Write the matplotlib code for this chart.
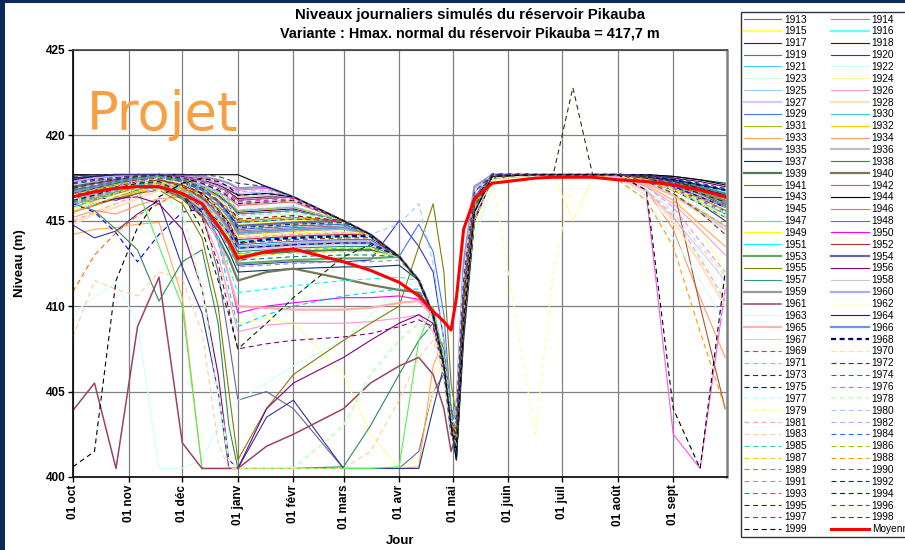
import matplotlib
matplotlib.use('Agg')
import matplotlib.pyplot as plt
from matplotlib.lines import Line2D
from matplotlib.patches import Rectangle

plt.rcParams['font.family'] = ['Liberation Sans', 'DejaVu Sans']
plt.rcParams['lines.scale_dashes'] = False

# ---------------- data ----------------
# day index from 01 oct (water year)
DAYS = [0, 12, 24, 36, 48, 61, 72, 81, 87, 92, 108, 123, 151, 166, 182, 193,
        201, 207, 211, 214, 218, 224, 234, 258, 268, 279, 290, 304, 320, 335, 350, 364]

MONTH_DAYS = [0, 31, 61, 92, 123, 151, 182, 212, 243, 273, 304, 335]
MONTH_LABELS = ['01 oct', '01 nov', '01 déc', '01 janv', '01 févr', '01 mars',
                '01 avr', '01 mai', '01 juin', '01 juil', '01 août', '01 sept']
Y_TICKS = [400, 405, 410, 415, 420, 425]

YEARS = list(range(1913, 2000))

LEVELS = {
1913: [416.8,417.0,416.6,416.9,417.2,416.8,415.5,412.0,408.0,404.5,405.0,404.0,400.5,400.5,400.5,401.5,405.0,406.0,403.5,401.5,408.5,415.5,417.5,417.7,417.7,417.7,417.7,417.7,417.5,417.2,416.8,416.4],
1914: [417.3,417.5,417.7,417.6,417.7,417.6,417.5,417.2,417.0,416.8,416.9,416.4,415.0,414.2,412.9,411.5,409.5,406.5,403.0,402.5,410.0,416.0,417.6,417.7,417.7,417.7,417.7,417.5,416.5,402.5,400.5,411.0],
1915: [416.2,416.5,416.9,417.2,417.4,417.2,416.6,416.0,415.4,414.8,414.9,415.0,415.0,414.2,412.9,411.5,409.5,406.5,403.5,404.0,412.0,416.8,417.7,417.7,417.7,417.7,417.7,417.6,417.3,416.9,416.5,416.0],
1916: [415.8,416.2,416.6,417.0,417.3,417.0,416.4,415.6,414.8,413.8,413.9,414.0,414.1,414.1,412.9,411.5,409.3,406.0,402.5,403.0,411.0,416.2,417.6,417.7,417.7,417.7,417.7,417.7,417.6,417.4,417.1,416.7],
1917: [417.7,417.6,417.7,417.5,417.6,417.5,417.3,417.0,416.7,416.3,416.4,416.4,415.0,414.2,412.9,411.5,409.5,406.8,403.2,401.5,409.0,415.5,417.5,417.7,417.7,417.7,417.7,417.7,417.7,417.5,417.3,417.0],
1918: [417.0,417.3,417.5,417.6,417.7,417.4,417.0,416.5,416.0,415.5,415.6,415.7,415.0,414.2,412.9,411.5,409.5,406.5,403.0,402.0,410.5,416.5,417.7,417.7,417.7,417.7,417.7,417.6,417.5,417.2,416.6,415.8],
1919: [416.5,416.0,416.4,416.8,417.0,416.6,415.9,415.0,414.2,413.2,413.3,413.4,413.5,413.5,412.9,411.5,409.5,406.2,402.8,403.5,411.5,416.5,417.6,417.7,417.7,417.7,417.7,417.7,417.5,417.0,416.4,415.9],
1920: [416.0,416.4,416.2,416.6,416.9,416.4,415.6,414.6,413.6,412.4,412.5,412.6,412.6,412.7,415.0,413.5,412.0,408.0,404.0,403.5,410.5,415.8,417.5,417.7,417.7,417.7,417.7,417.7,417.6,417.3,417.0,416.6],
1921: [416.9,417.2,417.0,417.3,417.5,417.2,416.7,416.0,415.2,414.2,414.3,414.4,414.5,414.2,412.9,411.5,409.5,406.5,403.0,401.8,409.5,416.0,417.6,417.7,417.7,417.7,417.7,417.7,417.4,416.8,416.1,415.4],
1922: [409.6,410.5,411.4,409.0,400.5,400.5,401.0,403.0,404.0,404.5,405.5,406.5,408.0,409.5,411.0,411.5,409.5,406.5,403.0,402.0,408.0,414.0,417.0,417.7,417.7,417.7,417.7,417.6,417.0,415.5,413.0,410.5],
1923: [416.4,416.8,417.1,417.4,417.6,417.3,416.9,416.3,415.8,415.2,415.3,415.4,415.0,414.2,412.9,411.5,409.5,406.5,403.0,404.5,412.5,416.8,417.7,417.7,417.7,417.7,417.7,417.7,417.2,416.4,415.4,414.3],
1924: [415.0,415.5,416.0,416.5,416.8,416.2,414.8,412.5,410.5,409.0,409.3,409.0,406.0,402.5,400.5,401.0,405.0,407.0,404.0,402.5,408.0,414.5,417.3,417.7,417.7,415.0,417.5,417.7,417.4,416.5,414.5,412.0],
1925: [417.2,417.4,417.6,417.7,417.7,417.6,417.4,417.1,416.9,416.6,416.7,416.4,415.0,414.2,412.9,411.5,409.5,406.5,403.0,403.0,411.5,416.5,417.7,417.7,417.7,417.7,417.7,417.7,417.5,417.1,416.5,415.8],
1926: [415.5,416.0,416.4,416.7,416.8,416.3,415.2,413.0,410.5,408.5,408.9,409.0,409.0,409.1,409.3,409.5,408.5,406.0,403.0,402.5,409.5,415.5,417.5,417.7,417.7,417.7,417.7,417.6,417.0,416.0,414.5,413.0],
1927: [416.6,417.0,417.2,417.0,417.4,417.3,417.0,416.7,416.4,416.0,416.1,416.2,415.0,414.2,412.9,411.5,409.5,406.5,403.0,403.8,412.0,416.9,417.7,417.7,417.7,417.7,417.7,417.7,417.3,416.5,415.5,414.5],
1928: [414.8,415.4,415.8,416.3,416.8,416.6,416.2,415.5,414.8,414.0,414.1,414.2,414.3,414.2,412.9,411.5,409.5,406.5,403.0,402.0,409.5,415.5,417.6,417.7,417.7,417.7,417.7,417.5,416.8,415.0,412.5,410.0],
1929: [417.0,417.2,417.4,417.3,417.5,417.3,416.9,416.4,416.0,415.4,415.5,415.6,415.0,414.2,412.9,414.8,413.2,409.5,404.0,403.0,411.0,416.3,417.6,417.7,417.7,417.7,417.7,417.7,417.6,417.3,417.0,416.6],
1930: [416.2,416.6,416.9,417.2,417.3,416.9,416.2,415.3,414.5,413.5,413.6,413.7,413.8,413.8,412.9,411.5,409.5,406.5,403.0,402.5,410.0,416.0,417.6,417.7,417.7,417.7,417.7,417.7,417.5,417.1,416.6,416.0],
1931: [416.5,416.9,417.2,417.5,417.7,417.4,417.0,416.4,415.8,415.0,415.1,415.2,415.0,414.2,412.9,411.5,409.5,406.5,403.0,401.5,408.5,415.2,417.5,417.7,417.7,417.7,417.7,417.7,417.6,417.4,417.0,416.5],
1932: [415.6,415.9,416.3,416.7,417.0,416.5,415.8,414.9,413.9,412.8,413.0,413.2,413.3,413.3,412.9,411.5,409.5,406.5,403.0,403.5,410.5,416.0,417.6,417.7,417.7,417.7,417.7,417.7,417.5,417.0,416.3,415.5],
1933: [414.2,414.5,414.6,414.8,414.9,410.5,400.5,400.5,400.5,400.5,400.5,400.5,400.5,400.5,400.5,400.6,406.5,408.0,404.0,402.0,409.5,415.0,417.5,417.7,417.7,417.7,417.7,417.6,417.1,416.2,414.8,413.5],
1934: [415.2,415.6,415.4,415.9,416.3,416.4,416.0,415.5,415.1,414.6,414.7,414.8,414.9,414.2,412.9,411.5,409.5,406.5,403.0,402.8,410.0,415.8,417.6,417.7,417.7,417.7,417.7,417.6,416.8,414.5,410.5,407.0],
1935: [417.5,417.6,417.7,417.7,417.7,417.7,417.6,417.4,417.2,416.9,417.0,416.4,415.0,414.2,412.9,411.5,409.5,406.5,403.0,404.0,412.5,417.0,417.7,417.7,417.7,417.7,417.7,417.7,417.6,417.3,416.9,416.4],
1936: [416.2,416.5,416.8,417.0,417.1,416.6,415.9,414.9,413.8,412.6,413.3,413.7,413.8,413.8,412.9,411.5,409.5,406.5,403.0,402.5,410.0,415.8,417.6,417.7,417.7,417.7,417.7,417.7,417.5,417.1,416.7,416.3],
1937: [417.5,417.6,417.7,417.7,417.5,416.3,415.5,414.4,413.2,412.0,412.1,412.2,412.3,412.3,412.4,411.5,409.5,406.5,403.0,401.0,408.0,415.0,417.5,417.7,417.7,417.7,417.7,417.7,417.7,417.6,417.4,417.2],
1938: [416.0,415.6,414.5,413.3,410.3,412.6,413.3,409.0,403.0,400.5,400.5,400.5,400.6,403.0,406.0,408.0,409.0,407.5,404.0,402.5,409.0,415.0,417.5,417.7,417.7,417.7,417.7,417.7,417.4,416.8,416.0,415.2],
1939: [416.8,417.0,417.3,417.5,417.5,417.0,416.3,415.3,414.3,413.0,413.1,413.2,413.3,413.3,412.9,411.5,409.5,406.5,403.0,402.0,409.0,415.5,417.6,417.7,417.7,417.7,417.7,417.7,417.5,417.2,416.8,416.4],
1940: [416.0,416.3,416.6,416.9,417.0,416.3,415.3,414.0,412.8,411.5,412.0,412.2,411.6,411.25,410.95,410.8,409.5,406.5,403.0,402.5,409.5,415.5,417.5,417.7,417.7,417.7,417.7,417.7,417.5,417.2,416.8,416.3],
1941: [417.4,417.6,417.7,417.6,417.7,417.6,417.3,417.0,416.7,416.2,416.3,416.4,415.0,414.2,412.9,411.5,409.5,406.5,403.0,402.8,410.5,416.2,417.6,417.7,417.7,417.7,417.7,417.7,417.5,417.0,410.0,404.0],
1942: [416.5,416.2,416.7,417.1,417.3,417.1,416.6,415.9,415.2,414.4,414.5,414.6,414.7,414.2,412.9,411.5,409.5,406.5,403.0,403.5,411.5,416.6,417.7,417.7,417.7,417.7,417.7,417.6,417.3,416.8,416.2,415.5],
1943: [414.75,414.0,414.4,415.4,416.2,412.3,409.6,405.0,400.5,400.5,403.5,404.5,400.5,400.5,400.5,400.5,404.0,406.5,403.5,401.5,408.5,415.0,417.5,417.7,417.7,417.7,417.7,417.7,417.4,416.8,416.0,415.0],
1944: [417.7,417.7,417.7,417.7,417.7,417.7,417.7,417.7,417.7,417.7,417.0,416.4,415.0,414.2,412.9,411.5,409.5,406.5,403.0,401.0,409.0,416.0,417.7,417.7,417.7,417.7,417.7,417.7,417.7,417.6,417.4,417.1],
1945: [417.0,417.2,417.4,417.6,417.7,417.5,417.2,416.8,416.4,415.8,415.9,416.0,415.0,414.2,412.9,411.5,409.5,406.5,403.0,403.0,411.0,416.5,417.7,417.7,417.7,417.7,417.7,417.7,417.5,417.2,416.8,416.4],
1946: [416.2,416.6,417.0,417.3,417.5,417.4,417.1,416.7,416.3,415.9,416.0,416.1,415.0,414.2,412.9,411.5,409.5,406.5,403.0,402.0,409.5,416.0,417.6,417.7,417.7,417.7,417.7,417.7,417.4,416.9,416.3,415.6],
1947: [416.8,417.2,417.0,416.9,413.5,410.0,400.5,400.5,400.5,400.5,400.5,400.5,400.5,400.5,400.6,408.0,410.0,407.0,403.0,402.0,409.0,415.5,417.6,417.7,417.7,417.7,417.7,417.7,417.5,417.0,416.4,415.8],
1948: [416.0,416.4,416.8,417.1,417.4,417.0,416.4,415.4,414.6,413.6,413.7,413.8,413.9,413.9,412.9,411.5,409.5,406.5,403.0,403.0,411.0,416.5,417.7,417.7,417.7,417.7,417.7,417.7,417.6,417.3,416.9,416.5],
1949: [416.3,416.0,416.4,416.9,417.2,416.8,416.1,415.1,414.1,413.0,413.2,413.3,413.4,413.4,412.9,411.5,409.5,406.5,403.0,402.5,410.5,416.0,417.6,417.7,417.7,417.7,417.7,417.7,417.5,417.2,416.7,416.2],
1950: [416.5,416.8,417.1,417.3,417.4,417.0,416.0,414.0,411.8,409.6,410.0,410.2,410.5,410.5,410.6,410.4,409.5,406.5,403.0,402.5,410.0,416.0,417.6,417.7,417.7,417.7,417.7,417.7,417.5,417.1,416.6,416.0],
1951: [416.0,416.5,417.0,417.3,417.5,417.2,416.8,416.1,415.5,414.9,415.0,415.1,415.0,414.2,412.9,411.5,409.5,406.5,403.0,401.5,409.0,415.5,417.6,417.7,417.7,417.7,417.7,417.7,417.4,416.9,416.3,415.5],
1952: [416.8,417.0,416.8,417.2,417.4,417.1,416.5,415.7,414.9,413.9,414.0,414.1,414.2,414.2,412.9,411.5,409.5,406.5,403.0,403.5,411.5,416.5,417.7,417.7,417.7,417.7,417.7,417.7,417.6,417.4,417.1,416.8],
1953: [416.0,416.3,416.7,417.0,417.0,416.5,415.7,414.7,413.6,412.5,412.6,412.7,412.8,412.8,412.9,411.5,409.5,406.5,403.0,402.0,409.5,415.5,417.6,417.7,417.7,417.7,417.7,417.7,417.5,417.2,416.7,416.2],
1954: [417.0,417.2,417.4,417.5,417.6,417.3,416.8,416.1,415.4,414.7,414.8,414.9,415.0,414.2,412.9,411.5,409.5,406.5,403.0,402.5,410.5,416.2,417.7,417.7,417.7,417.7,417.7,417.7,417.5,417.1,416.6,416.0],
1955: [415.5,415.9,416.3,416.6,416.8,416.0,414.0,410.0,405.0,401.0,404.0,406.0,408.0,409.0,410.0,413.5,416.0,412.0,405.5,403.5,410.0,415.8,417.6,417.7,417.7,417.7,417.7,417.7,417.5,417.1,416.6,416.2],
1956: [415.5,416.0,416.3,416.4,416.0,414.5,411.0,406.0,401.0,400.5,404.0,405.5,407.0,408.0,409.0,409.5,409.0,406.0,402.5,402.0,408.5,415.0,417.5,417.7,417.7,417.7,417.7,417.7,417.5,417.0,416.4,415.8],
1957: [416.6,416.9,417.2,417.4,417.5,417.2,416.7,416.0,415.3,414.5,414.6,414.7,414.8,414.2,412.9,411.5,409.5,406.5,403.0,402.0,409.5,415.8,417.6,417.7,417.7,417.7,417.7,417.7,417.6,417.3,417.0,416.6],
1958: [417.1,417.3,417.5,417.6,417.7,417.6,417.3,417.0,416.8,416.4,416.5,416.4,415.0,414.2,412.9,411.5,409.5,406.5,403.0,403.0,411.0,416.5,417.7,417.7,417.7,417.7,417.7,417.7,417.5,417.0,416.4,415.8],
1959: [416.3,416.6,416.9,417.2,417.3,416.9,416.2,415.3,414.4,413.4,413.5,413.6,413.7,413.7,412.9,411.5,409.5,406.5,403.0,402.5,410.0,415.8,417.6,417.7,417.7,417.7,417.7,417.7,417.5,417.1,416.6,416.1],
1960: [417.3,417.5,417.6,417.7,417.7,417.5,417.1,416.7,416.2,415.6,415.7,415.8,415.0,414.2,412.9,411.5,409.5,406.5,403.0,403.5,411.5,416.6,417.7,417.7,417.7,417.7,417.7,417.7,417.5,417.2,416.8,416.3],
1961: [403.9,405.5,400.5,408.8,411.7,402.0,400.5,400.5,400.5,400.5,401.8,402.5,404.0,405.5,406.5,407.0,406.0,404.0,401.5,402.5,409.0,415.5,417.5,417.7,417.7,417.7,417.7,417.7,417.4,416.9,416.3,415.6],
1962: [416.0,416.4,416.8,417.2,417.5,417.2,416.8,416.3,415.8,415.3,415.4,415.5,415.0,414.2,412.9,411.5,409.5,406.5,403.0,402.5,410.0,416.0,417.6,417.7,417.7,417.7,417.7,417.5,416.5,414.8,412.8,411.0],
1963: [415.5,416.0,416.5,416.9,417.1,416.6,415.8,414.8,413.8,412.9,413.0,413.1,413.2,413.2,412.9,411.5,409.5,406.5,403.0,402.0,409.5,415.5,417.5,417.7,417.7,417.7,417.7,417.4,416.2,414.0,411.5,409.0],
1964: [417.4,417.6,417.7,417.7,417.7,417.6,417.4,417.1,416.8,416.5,416.6,416.4,415.0,414.2,412.9,411.5,409.5,406.5,403.0,402.5,410.5,416.3,417.7,417.7,417.7,417.7,417.7,417.7,417.6,417.3,416.9,416.5],
1965: [416.0,416.4,416.8,417.1,417.2,416.7,415.7,413.8,411.8,410.0,409.9,409.8,409.8,409.9,410.2,410.3,409.4,406.5,403.0,402.5,410.0,415.8,417.6,417.7,417.7,417.7,417.7,417.6,417.2,416.5,415.6,414.7],
1966: [416.7,417.0,417.3,417.5,417.6,417.3,416.8,416.0,415.2,414.3,414.4,414.5,414.6,414.2,412.9,411.5,409.5,406.5,403.0,403.0,411.0,416.4,417.7,417.7,417.7,417.7,417.7,417.7,417.5,417.2,416.8,416.4],
1967: [416.2,416.5,416.9,417.2,417.3,416.9,416.2,415.2,414.3,413.3,413.4,413.5,413.6,413.6,412.9,411.5,409.5,406.5,403.0,402.0,409.0,415.3,417.5,417.7,417.7,417.7,417.7,417.5,416.7,415.2,413.3,411.5],
1968: [417.2,417.4,417.5,417.6,417.7,417.3,416.6,415.7,414.8,413.7,413.9,414.0,414.1,414.1,412.9,411.5,409.5,406.5,403.0,402.5,410.5,416.2,417.7,417.7,417.7,417.7,417.7,417.7,417.6,417.4,417.1,416.8],
1969: [416.8,417.1,417.4,417.6,417.7,417.5,417.2,416.8,416.5,416.1,416.2,416.3,415.0,414.2,412.9,411.5,409.5,406.5,403.0,402.0,409.5,416.0,417.6,417.7,417.7,417.7,417.7,417.7,417.4,416.9,416.2,415.4],
1970: [415.6,416.1,416.6,417.0,417.3,417.0,416.5,415.8,415.0,414.1,414.2,414.3,414.4,414.2,412.9,411.5,409.5,406.5,403.0,403.0,411.0,416.3,417.6,417.7,417.7,417.7,417.7,417.7,417.4,416.8,416.1,415.3],
1971: [416.4,416.7,417.0,417.3,417.4,416.9,415.8,414.0,412.3,410.8,411.0,411.2,411.5,411.6,411.7,411.5,409.5,406.5,403.0,402.0,409.0,415.5,417.5,417.7,417.7,417.7,417.7,417.7,417.5,417.0,416.4,415.8],
1972: [416.0,416.4,416.8,417.1,417.2,416.6,415.2,412.5,409.8,407.5,407.8,408.0,408.2,408.4,408.8,409.2,408.8,406.2,403.0,402.5,409.5,415.5,417.5,417.7,417.7,417.7,417.7,417.7,417.5,417.0,416.4,415.8],
1973: [416.9,417.2,417.4,417.5,417.6,417.4,417.0,416.5,415.9,415.1,415.2,415.3,415.0,414.2,412.9,411.5,409.5,406.5,403.0,401.5,409.0,415.8,417.6,417.7,417.7,417.7,417.7,417.7,417.6,417.3,416.9,416.5],
1974: [416.1,416.5,416.9,417.2,417.2,416.6,415.8,414.8,413.8,412.7,412.8,412.9,413.0,413.0,412.9,411.5,409.5,406.5,403.0,403.0,410.5,416.0,417.6,417.7,417.7,417.7,417.7,417.7,417.5,417.1,416.6,416.0],
1975: [416.0,415.5,414.3,412.6,414.2,415.5,415.7,415.0,414.3,413.4,413.5,413.6,413.7,413.7,412.9,411.5,409.5,406.5,403.0,402.0,409.5,415.5,417.6,417.7,417.7,417.7,417.7,417.7,417.5,417.0,416.4,415.8],
1976: [416.6,416.9,417.2,417.4,417.5,417.0,416.0,413.8,411.0,408.8,409.5,410.0,410.6,410.8,411.0,411.0,409.5,406.5,403.0,402.5,410.0,415.8,417.6,417.7,417.7,417.7,417.7,417.7,417.5,417.1,416.6,416.1],
1977: [416.3,416.7,417.0,417.3,417.5,417.3,417.0,416.6,416.2,415.7,415.8,415.9,415.0,414.2,412.9,411.5,409.5,406.5,403.0,403.5,411.5,416.5,417.7,417.7,417.7,417.7,417.7,417.7,417.3,416.6,415.7,414.8],
1978: [415.8,416.2,416.6,416.9,416.8,415.5,411.0,405.0,401.0,400.5,400.5,400.5,403.0,406.0,408.0,409.0,408.5,406.0,403.0,402.5,410.0,415.5,417.5,417.7,417.7,417.7,417.7,417.7,417.4,416.9,416.2,415.5],
1979: [416.5,416.8,417.1,417.4,417.5,417.2,416.7,416.0,415.3,414.6,414.7,414.8,414.9,414.2,412.9,411.5,409.5,406.5,403.0,402.0,409.5,415.5,417.6,402.5,412.0,417.5,417.7,417.7,417.4,416.8,416.0,415.2],
1980: [417.0,417.2,417.4,417.5,417.6,417.3,416.9,416.4,415.9,415.3,415.4,415.5,415.0,414.2,414.8,416.0,412.5,408.0,403.5,403.0,411.0,416.3,417.7,417.7,417.7,417.7,417.7,417.7,417.5,417.1,416.6,416.0],
1981: [415.0,415.5,416.0,416.5,416.9,416.7,416.2,415.5,414.8,414.0,414.1,414.2,414.3,414.2,412.9,411.5,409.5,406.5,403.0,402.0,409.5,415.5,417.6,417.7,417.7,417.7,417.7,417.5,416.8,415.3,412.8,410.3],
1982: [417.3,417.5,417.6,417.7,417.7,417.6,417.4,417.2,417.0,416.7,416.8,416.4,415.0,414.2,412.9,411.5,409.5,406.5,403.0,403.0,411.0,416.2,417.7,417.7,417.7,417.7,417.7,417.6,417.0,415.8,413.8,412.0],
1983: [408.2,411.5,411.0,410.6,412.0,411.6,408.5,402.0,400.5,400.5,400.5,400.5,400.5,401.5,404.5,407.0,408.0,406.0,402.5,402.0,409.0,415.0,417.4,417.7,417.7,417.7,417.7,417.5,416.8,415.5,413.5,411.8],
1984: [416.8,417.0,417.3,417.5,417.6,417.3,416.8,416.1,415.3,414.5,414.6,414.7,414.8,414.2,412.9,411.5,409.5,406.5,403.0,402.5,410.5,416.2,417.7,417.7,417.7,417.7,417.7,417.7,417.6,417.3,416.9,416.5],
1985: [416.0,416.4,416.8,417.1,417.2,416.8,416.1,415.1,414.1,413.1,413.2,413.3,413.4,413.4,412.9,411.5,409.5,406.5,403.0,401.5,409.0,415.5,417.6,417.7,417.7,417.7,417.7,417.7,417.5,417.1,416.6,416.1],
1986: [416.4,416.8,417.1,417.4,417.6,417.4,417.0,416.6,416.1,415.6,415.7,415.8,415.0,414.2,412.9,411.5,409.5,406.5,403.0,402.5,410.0,415.8,417.6,417.7,417.7,417.7,417.7,417.7,417.5,416.6,415.6,414.7],
1987: [415.8,416.2,416.6,417.0,417.1,416.6,415.9,414.9,413.9,412.9,413.0,413.1,413.2,413.2,412.9,411.5,409.5,406.5,403.0,403.0,410.5,416.0,417.6,417.7,417.7,417.7,417.7,417.7,417.4,416.9,416.3,415.6],
1988: [415.5,415.9,416.4,416.8,417.1,416.9,416.4,415.7,415.0,414.2,414.3,414.4,414.5,414.2,412.9,411.5,409.5,406.5,403.0,402.5,410.0,415.8,417.6,417.7,417.7,417.7,417.7,417.4,416.2,413.5,408.5,404.0],
1989: [410.85,413.0,414.3,415.3,416.0,416.8,416.7,416.2,415.7,415.0,415.1,415.2,415.0,414.2,412.9,411.5,409.5,406.5,403.0,402.0,409.0,415.5,417.6,417.7,417.7,417.7,417.7,417.7,417.5,417.1,416.6,416.1],
1990: [417.2,417.4,417.5,417.6,417.7,417.6,417.3,416.9,416.6,416.2,416.3,416.4,415.0,414.2,412.9,411.5,409.5,406.5,403.0,402.5,410.5,416.2,417.7,417.7,417.7,417.7,417.7,417.7,417.6,417.3,416.9,416.5],
1991: [415.8,416.2,416.6,416.9,416.9,416.3,415.5,414.5,413.4,412.3,412.4,412.5,412.6,412.6,412.7,411.5,409.5,406.5,403.0,402.5,410.0,415.7,417.6,417.7,417.7,417.7,417.7,417.7,417.4,416.9,416.4,415.8],
1992: [417.5,417.6,417.7,417.7,417.7,417.4,416.9,416.2,415.4,414.6,414.7,414.8,414.9,414.2,412.9,411.5,409.5,406.5,403.0,401.0,408.5,415.5,417.6,417.7,417.7,417.7,417.7,417.7,417.6,417.4,417.1,416.8],
1993: [416.8,417.0,417.3,417.5,417.6,417.4,417.0,416.5,416.0,415.4,415.5,415.6,415.0,414.2,412.9,411.5,409.5,406.5,403.0,402.5,410.5,416.0,417.6,417.7,417.7,417.7,417.7,417.7,417.5,417.2,416.8,416.4],
1994: [416.2,416.5,416.9,417.2,417.3,416.6,414.5,411.5,409.5,407.5,409.0,410.5,412.9,413.6,412.9,411.5,409.5,406.5,403.0,402.0,409.5,415.5,417.6,417.7,417.7,417.7,417.7,417.7,417.5,417.1,416.6,416.1],
1995: [417.0,417.2,417.4,417.6,417.7,417.5,417.2,416.8,416.4,416.0,416.1,416.2,415.0,414.2,412.9,411.5,409.5,406.5,403.0,402.5,410.5,416.2,417.7,417.7,417.7,422.8,417.7,417.7,417.6,417.3,416.9,416.5],
1996: [416.4,416.7,417.0,417.3,417.4,417.0,416.4,415.5,414.7,413.7,413.8,413.9,414.0,414.0,412.9,411.5,409.5,406.5,403.0,402.5,410.0,415.8,417.6,417.7,417.7,417.7,417.7,417.7,417.3,416.6,415.5,414.2],
1997: [416.6,416.9,417.2,417.4,417.5,417.3,416.9,416.2,415.6,414.9,415.0,415.1,415.0,414.2,412.9,411.5,409.5,406.5,403.0,403.0,411.0,416.4,417.7,417.7,417.7,417.7,417.7,417.7,417.5,417.2,416.8,416.3],
1998: [417.6,417.7,417.7,417.7,417.7,417.7,417.7,417.6,417.4,417.2,417.0,416.4,415.0,414.2,412.9,411.5,409.5,406.5,403.0,403.5,411.5,416.7,417.7,417.7,417.7,417.7,417.7,417.7,417.7,417.5,417.2,416.9],
1999: [400.6,401.5,411.5,414.6,416.4,417.2,417.5,417.3,417.0,416.5,416.6,416.4,415.0,414.2,412.9,411.5,409.5,406.5,403.0,401.5,409.0,415.5,417.6,417.7,417.7,417.7,417.7,417.7,416.8,404.0,400.5,412.0],
}

MOYENNE = [416.4,416.7,416.9,417.0,417.0,416.6,416.0,414.7,413.8,412.8,413.2,413.35,412.6,412.1,411.4,410.6,409.7,409.1,408.6,410.5,414.5,416.3,417.2,417.5,417.55,417.55,417.55,417.4,417.3,417.1,416.8,416.4]

# ---------------- styles ----------------
COLORS = {
1913:'#666699',1914:'#ff55ee',1915:'#ffff66',1916:'#66ffff',1917:'#660066',1918:'#660000',
1919:'#338877',1920:'#3333cc',1921:'#44ccff',1922:'#ccffff',1923:'#ccffcc',1924:'#ffff99',
1925:'#99ccff',1926:'#ff99cc',1927:'#dcc6ff',1928:'#ffe0c0',1929:'#4477ff',1930:'#44cccc',
1931:'#99cc00',1932:'#ffcc00',1933:'#ffaa55',1934:'#ff9966',1935:'#9999bb',1936:'#c0c0c0',
1937:'#003366',1938:'#2e8b57',1939:'#557755',1940:'#777755',1941:'#aa5533',1942:'#aa6688',
1943:'#333399',1944:'#000000',1945:'#ffffff',1946:'#ff6060',1947:'#55ee55',1948:'#5566ee',
1949:'#ffff00',1950:'#ff00ff',1951:'#00ffff',1952:'#aa3333',1953:'#66aa66',1954:'#6666aa',
1955:'#808000',1956:'#800080',1957:'#339988',1958:'#c8c8c8',1959:'#999999',1960:'#aaaaff',
1961:'#994466',1962:'#ffffcc',1963:'#ccffff',1964:'#660066',1965:'#ffb0b0',1966:'#6699dd',
1967:'#ccccff',1968:'#000080',1969:'#ff00ff',1970:'#ffff00',1971:'#00ffff',1972:'#800080',
1973:'#800000',1974:'#008080',1975:'#0000ff',1976:'#00ccff',1977:'#ccffff',1978:'#ccffcc',
1979:'#ffff99',1980:'#99ccff',1981:'#ff99cc',1982:'#cc99ff',1983:'#ffcc99',1984:'#3366ff',
1985:'#33cccc',1986:'#99cc00',1987:'#ffcc00',1988:'#ff9900',1989:'#ff6600',1990:'#666699',
1991:'#969696',1992:'#003366',1993:'#339966',1994:'#003300',1995:'#333300',1996:'#993300',
1997:'#993366',1998:'#333399',1999:'#000000',
}
THICK = {1915, 1916, 1927, 1928, 1935, 1936, 1939, 1940, 1953, 1954, 1959, 1960,
         1965, 1966, 1968, 1977, 1978}
MEDIUM = {1961}
DASH = (0, (3.6, 2.6))

def style(y):
    lw = 1.6 if y in THICK else (1.1 if y in MEDIUM else 0.8)
    ls = DASH if y >= 1968 else '-'
    return dict(color=COLORS[y], lw=lw, ls=ls)

# ---------------- figure ----------------
W, H = 905, 550
fig = plt.figure(figsize=(W / 100, H / 100), dpi=100)
ax = fig.add_axes([73 / W, 1 - 477 / H, (727 - 73) / W, (477 - 50) / H])

handles = {}
for y in YEARS:
    st = style(y)
    ax.plot(DAYS, LEVELS[y], solid_joinstyle='round', dash_joinstyle='round', **st)
    handles[y] = Line2D([], [], **st)
ax.plot(DAYS, MOYENNE, color='#ff0000', lw=2.2, solid_joinstyle='round')
h_moy = Line2D([], [], color='#ff0000', lw=2.2)

ax.set_xlim(0, 365)
ax.set_ylim(400, 425)
ax.set_xticks(MONTH_DAYS)
ax.set_xticklabels(MONTH_LABELS, rotation=90, fontsize=8.5, fontweight='bold')
ax.set_yticks(Y_TICKS)
ax.set_yticklabels([str(v) for v in Y_TICKS], fontsize=8.5, fontweight='bold')
ax.tick_params(direction='out', length=3.5, width=1, pad=2)
ax.grid(True, color='#808080', lw=0.9)
ax.set_axisbelow(True)
for s in ('left', 'bottom'):
    ax.spines[s].set_color('black')
    ax.spines[s].set_linewidth(1.2)
ax.spines['top'].set_color('#404040')
ax.spines['top'].set_linewidth(1.2)
ax.spines['right'].set_color('#808080')
ax.spines['right'].set_linewidth(1.8)

ax.set_xlabel('Jour', fontsize=9.5, fontweight='bold', labelpad=4)
ax.set_ylabel('Niveau (m)', fontsize=9.5, fontweight='bold', labelpad=14)

fig.text(470 / W, 1 - 15 / H, 'Niveaux journaliers simulés du réservoir Pikauba',
         ha='center', va='center', fontsize=10.8, fontweight='bold')
fig.text(470 / W, 1 - 33 / H, 'Variante : Hmax. normal du réservoir Pikauba = 417,7 m',
         ha='center', va='center', fontsize=10.4, fontweight='bold')
fig.text(87 / W, 1 - 130 / H, 'Projet', ha='left', va='baseline',
         fontsize=38, color='#f7a043', family='DejaVu Sans')

# legend: row-major order (odd years | even years + Moyenne)
order_left = [y for y in YEARS if y % 2 == 1]
order_right = [y for y in YEARS if y % 2 == 0]
leg_h = [handles[y] for y in order_left] + [handles[y] for y in order_right] + [h_moy]
leg_l = [str(y) for y in order_left] + [str(y) for y in order_right] + ['Moyenne']
leg = fig.legend(leg_h, leg_l, loc='upper left', bbox_to_anchor=(741 / W, 1 - 12 / H),
                 ncol=2, fontsize=7.3, frameon=True, fancybox=False, shadow=False,
                 edgecolor='black', borderpad=0.25, labelspacing=0.183,
                 handlelength=3.7, handletextpad=0.3, columnspacing=2.4,
                 borderaxespad=0)
leg.get_frame().set_linewidth(1.0)

# navy frame (left and top)
fig.patches.append(Rectangle((0, 0), 4.5 / W, 1, transform=fig.transFigure,
                             facecolor='#0b2a5c', edgecolor='none', zorder=10))
fig.patches.append(Rectangle((0, 1 - 3 / H), 1, 3 / H, transform=fig.transFigure,
                             facecolor='#0b2a5c', edgecolor='none', zorder=10))

fig.savefig('out.png', dpi=100)
